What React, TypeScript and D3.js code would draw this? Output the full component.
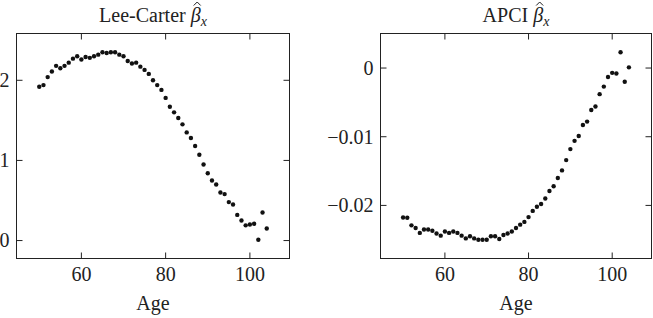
import React, { useLayoutEffect, useRef, useState } from "react";
import * as d3 from "d3";

const ages: number[] = d3.range(50, 105);

const leeCarter: number[] = [
  1.92, 1.94, 2.04, 2.11, 2.18, 2.15, 2.18, 2.22, 2.27, 2.30,
  2.26, 2.29, 2.28, 2.30, 2.32, 2.35, 2.34, 2.35, 2.35, 2.32,
  2.30, 2.24, 2.21, 2.22, 2.17, 2.13, 2.08, 2.00, 1.94, 1.88,
  1.78, 1.67, 1.60, 1.53, 1.45, 1.35, 1.28, 1.18, 1.07, 0.95,
  0.84, 0.75, 0.70, 0.60, 0.58, 0.48, 0.45, 0.32, 0.25, 0.19,
  0.20, 0.21, 0.01, 0.35, 0.15,
];

const apci: number[] = [
  -0.02175, -0.0218, -0.0229, -0.0233, -0.0240, -0.0235, -0.0235, -0.0237, -0.0241, -0.0244,
  -0.0238, -0.0240, -0.0238, -0.0240, -0.0244, -0.0248, -0.0245, -0.0248, -0.0250, -0.0250,
  -0.0250, -0.0245, -0.0245, -0.0249, -0.0243, -0.0241, -0.0238, -0.0233, -0.0228, -0.0224,
  -0.0217, -0.0208, -0.0202, -0.0198, -0.0190, -0.0179, -0.0172, -0.0160, -0.0149, -0.0134,
  -0.0118, -0.0106, -0.0099, -0.0083, -0.0078, -0.0061, -0.0056, -0.0038, -0.0027, -0.0013,
  -0.0007, -0.0008, 0.0023, -0.0020, 0.0001,
];

const xTicks: number[] = [60, 80, 100];
const lcTicks: number[] = [0, 1, 2];
const apciTicks: number[] = [-0.02, -0.01, 0];

const FONT = "'Liberation Serif', 'DejaVu Serif', serif";

type PanelProps = {
  left: number;
  right: number;
  top: number;
  bottom: number;
  values: number[];
  yTicks: number[];
  yFmt: (v: number) => string;
  titleMain: string;
};

function Panel({ left, right, top, bottom, values, yTicks, yFmt, titleMain }: PanelProps) {
  const titleRef = useRef<SVGTextElement>(null);
  const [hatX, setHatX] = useState<number | null>(null);
  useLayoutEffect(() => {
    const el = titleRef.current;
    if (!el) return;
    try {
      const idx = titleMain.length;
      const s = el.getStartPositionOfChar(idx).x;
      const e = el.getEndPositionOfChar(idx).x;
      setHatX((s + e) / 2 + 1.5);
    } catch (err) {
      setHatX(null);
    }
  }, [titleMain]);

  const xMin = d3.min(ages)!;
  const xMax = d3.max(ages)!;
  const xPad = (xMax - xMin) * 0.1;
  const yMin = d3.min(values)!;
  const yMax = d3.max(values)!;
  const yPad = (yMax - yMin) * 0.1;
  const x = d3.scaleLinear().domain([xMin - xPad, xMax + xPad]).range([left, right]);
  const y = d3.scaleLinear().domain([yMin - yPad, yMax + yPad]).range([bottom, top]);
  const tl = 6;
  const cx = (left + right) / 2;
  const stroke = "#222";
  return (
    <g>
      <rect x={left} y={top} width={right - left} height={bottom - top} fill="none" stroke={stroke} strokeWidth={1} />
      {xTicks.map((t) => (
        <g key={"x" + t}>
          <line x1={x(t)} x2={x(t)} y1={bottom} y2={bottom - tl} stroke={stroke} />
          <line x1={x(t)} x2={x(t)} y1={top} y2={top + tl} stroke={stroke} />
          <text x={x(t)} y={281} textAnchor="middle" fontFamily={FONT} fontSize={20} fill="#222">
            {t}
          </text>
        </g>
      ))}
      {yTicks.map((t) => (
        <g key={"y" + t}>
          <line x1={left} x2={left + tl} y1={y(t)} y2={y(t)} stroke={stroke} />
          <line x1={right} x2={right - tl} y1={y(t)} y2={y(t)} stroke={stroke} />
          <text x={left - 7} y={y(t)} dy="0.34em" textAnchor="end" fontFamily={FONT} fontSize={20} fill="#222">
            {yFmt(t)}
          </text>
        </g>
      ))}
      {values.map((v, i) => (
        <circle key={i} cx={x(ages[i])} cy={y(v)} r={2.2} fill="#111" />
      ))}
      <text ref={titleRef} x={cx} y={22} textAnchor="middle" fontFamily={FONT} fontSize={20} fill="#222">
        {titleMain}
        <tspan fontStyle="italic">{"\u03B2"}</tspan>
        <tspan fontStyle="italic" fontSize={14} dy={4}>x</tspan>
      </text>
      {hatX !== null && (
        <path
          d={`M${hatX - 3.5},${5.5} L${hatX},${2} L${hatX + 3.5},${5.5}`}
          fill="none"
          stroke="#222"
          strokeWidth={1}
        />
      )}
      <text x={cx} y={310} textAnchor="middle" fontFamily={FONT} fontSize={20} fill="#222">
        Age
      </text>
    </g>
  );
}

export default function App() {
  const fmtLC = (v: number) => d3.format("d")(v);
  const fmtAP = (v: number) => (v === 0 ? "0" : d3.format(".2f")(v).replace("-", "\u2212"));
  return (
    <svg width={653} height={318} style={{ position: "absolute", left: 0, top: 0, background: "#fff" }}>
      <Panel left={16.5} right={289.5} top={33.5} bottom={258.5} values={leeCarter} yTicks={lcTicks} yFmt={fmtLC} titleMain={"Lee-Carter "} />
      <Panel left={380.5} right={651.5} top={33.5} bottom={258.5} values={apci} yTicks={apciTicks} yFmt={fmtAP} titleMain={"APCI "} />
    </svg>
  );
}
